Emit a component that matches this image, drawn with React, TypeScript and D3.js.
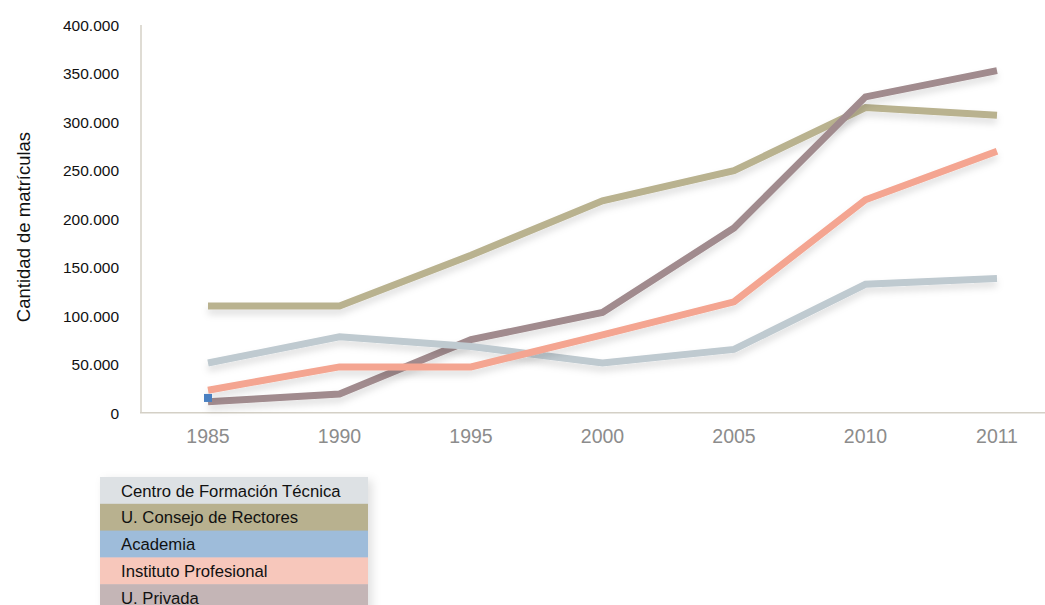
import React from "react";
import * as d3 from "d3";

const years = ["1985", "1990", "1995", "2000", "2005", "2010", "2011"];
const yTicks = [0, 50000, 100000, 150000, 200000, 250000, 300000, 350000, 400000];

const consejo = [110700, 110700, 163000, 219000, 250000, 315000, 307000];
const privada = [12000, 20000, 76000, 104000, 191000, 326000, 353000];
const cft = [52000, 79000, 69000, 52000, 66000, 133000, 139000];
const instituto = [24000, 48000, 48000, 81000, 115000, 220000, 270000];
const academia = [16000];

const legendNames = [
  "Centro de Formación Técnica",
  "U. Consejo de Rectores",
  "Academia",
  "Instituto Profesional",
  "U. Privada",
];
const legendColors = ["#dde1e4", "#b8b18f", "#9ebcda", "#f7c7bb", "#c4b5b6"];

const seriesDraw = [
  { values: consejo, color: "#b9b28f" },
  { values: privada, color: "#a18b8e" },
  { values: cft, color: "#bfcad0" },
  { values: instituto, color: "#f4a591" },
];

export default function App() {
  const W = 1045;
  const H = 605;
  const x = d3.scalePoint<string>().domain(years).range([208, 997]);
  const y = d3.scaleLinear().domain([0, 400000]).range([413.5, 25]);
  const line = d3
    .line<number>()
    .x((_, i) => x(years[i]) as number)
    .y((v) => y(v));
  const fmt = (v: number) =>
    v === 0 ? "0" : d3.format(",")(v).replace(/,/g, ".");

  return (
    <svg
      width={W}
      height={H}
      style={{ position: "absolute", left: 0, top: 0, fontFamily: "Liberation Sans, Arial, sans-serif" }}
    >
      <defs>
        <filter id="sh" x="-10%" y="-20%" width="120%" height="160%">
          <feDropShadow dx="0" dy="5" stdDeviation="3.5" floodColor="#000" floodOpacity="0.13" />
        </filter>
        <filter id="lsh" x="-10%" y="-10%" width="130%" height="130%">
          <feDropShadow dx="4" dy="3" stdDeviation="5" floodColor="#000" floodOpacity="0.12" />
        </filter>
      </defs>
      <rect width={W} height={H} fill="#fff" />
      {/* axes */}
      <line x1={141} x2={141} y1={25} y2={413} stroke="#d4d0c6" strokeWidth={1.5} />
      <line x1={140} x2={1045} y1={412.7} y2={412.7} stroke="#d4d0c6" strokeWidth={1.5} />
      {yTicks.map((t) => (
        <text key={t} x={119} y={y(t) + 5.5} textAnchor="end" fontSize={15.5} fill="#111">
          {fmt(t)}
        </text>
      ))}
      {years.map((yr) => (
        <text
          key={yr}
          x={x(yr) as number}
          y={443}
          textAnchor="middle"
          fontSize={19.5}
          fill="#8c8c8c"
        >
          {yr}
        </text>
      ))}
      <text
        transform="translate(30,227) rotate(-90)"
        textAnchor="middle"
        fontSize={18.5}
        fill="#111"
      >
        Cantidad de matrículas
      </text>
      {/* lines */}
      {seriesDraw.map((s, i) => (
        <path
          key={i}
          d={line(s.values) || ""}
          fill="none"
          stroke={s.color}
          strokeWidth={7}
          strokeLinejoin="miter"
          strokeLinecap="butt"
          filter="url(#sh)"
        />
      ))}
      {academia.map((v, i) => (
        <rect
          key={i}
          x={(x(years[i]) as number) - 4}
          y={y(v) - 4}
          width={8}
          height={8}
          fill="#4a80c1"
        />
      ))}
      {/* legend */}
      <g filter="url(#lsh)">
        {legendNames.map((n, i) => (
          <rect key={n} x={100} y={477 + i * 26.8} width={268} height={27.3} fill={legendColors[i]} />
        ))}
      </g>
      {legendNames.map((n, i) => (
        <text key={n} x={121} y={477 + i * 26.8 + 19.5} fontSize={16.7} fill="#111">
          {n}
        </text>
      ))}
    </svg>
  );
}
